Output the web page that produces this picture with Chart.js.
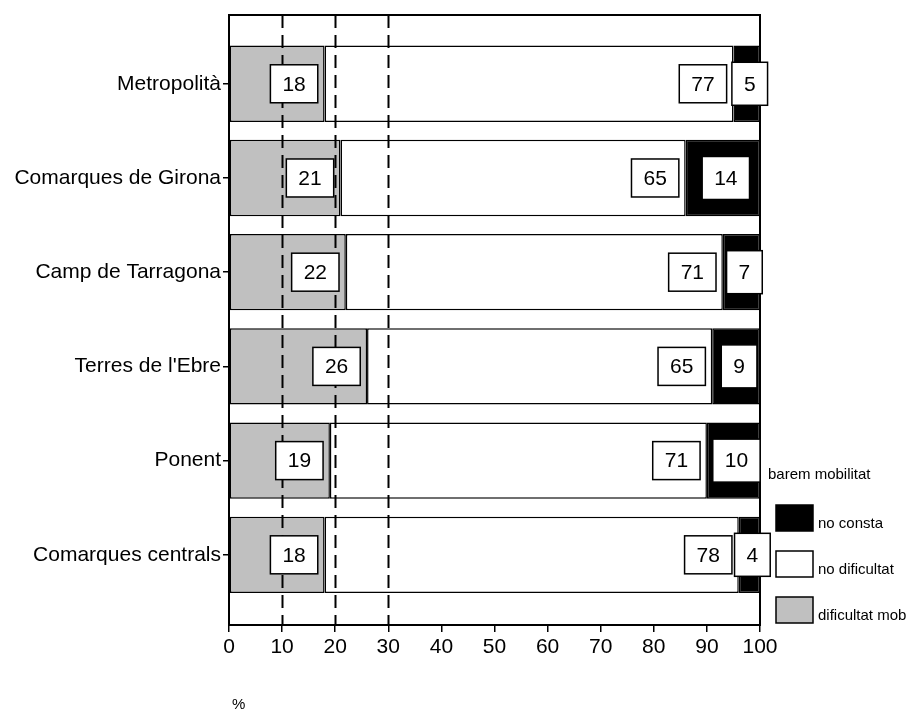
<!DOCTYPE html>
<html>
<head>
<meta charset="utf-8">
<title>barem mobilitat</title>
<script src="https://cdn.jsdelivr.net/npm/chart.js@4.4.1/dist/chart.umd.min.js"></script>
<style>
    html, body { margin: 0; padding: 0; background: #fff; }
    #wrap { width: 912px; height: 711px; }
</style>
</head>
<body>
<div id="wrap"><canvas id="chart" width="912" height="711"></canvas></div>
<script>
'use strict';

const categories = ['Metropolità', 'Comarques de Girona', 'Camp de Tarragona', "Terres de l'Ebre", 'Ponent', 'Comarques centrals'];
const dificultatMob = [18, 21, 22, 26, 19, 18];
const noDificultat = [77, 65, 71, 65, 71, 78];
const noConsta = [5, 14, 7, 9, 10, 4];
const seriesNames = ['dificultat mob', 'no dificultat', 'no consta'];
const seriesColors = ['#c0c0c0', '#ffffff', '#000000'];
const dashedAt = [10, 20, 30];
const legendTitle = 'barem mobilitat';
const axisTitle = '%';

const FONT = '"Liberation Sans", Arial, sans-serif';

const toPoints = arr => arr.map((v, i) => ({ x: v, y: i }));

// Dashed reference lines, plot frame, boxed value labels and the legend.
const overlays = {
    id: 'overlays',
    afterDatasetsDraw(chart) {
        const { ctx, chartArea: a } = chart;
        const xs = chart.scales.x;

        ctx.save();
        ctx.strokeStyle = '#000';
        ctx.lineWidth = 2;
        ctx.setLineDash([13, 7]);
        dashedAt.forEach(v => {
            const px = Math.round(xs.getPixelForValue(v)) + 0.5;
            ctx.beginPath();
            ctx.moveTo(px, a.top);
            ctx.lineTo(px, a.bottom);
            ctx.stroke();
        });
        ctx.setLineDash([]);
        ctx.strokeRect(a.left, a.top, a.right - a.left, a.bottom - a.top);

        // value labels
        ctx.font = '21px ' + FONT;
        ctx.textAlign = 'center';
        ctx.textBaseline = 'middle';
        ctx.lineWidth = 1.5;
        chart.data.datasets.forEach((ds, di) => {
            const meta = chart.getDatasetMeta(di);
            meta.data.forEach((el, i) => {
                const txt = String(ds.data[i].x);
                const w = ctx.measureText(txt).width + 24;
                const h = di === 2 ? 43 : 38;
                const cx = di === 2 ? (el.x + el.base) / 2 + 3 : el.x - 30.5;
                const cy = el.y;
                ctx.fillStyle = '#fff';
                ctx.fillRect(cx - w / 2, cy - h / 2, w, h);
                ctx.strokeStyle = '#000';
                ctx.strokeRect(cx - w / 2, cy - h / 2, w, h);
                ctx.fillStyle = '#000';
                ctx.fillText(txt, cx, cy + 1);
            });
        });

        // legend, in reverse series order like the original
        const lx = a.right + 16;
        const boxW = 37, boxH = 26, step = 46;
        ctx.font = '15px ' + FONT;
        ctx.textAlign = 'left';
        ctx.fillStyle = '#000';
        const n = chart.data.datasets.length;
        const firstTop = a.bottom - 2 - boxH - step * (n - 1);
        ctx.fillText(legendTitle, a.right + 8, firstTop - 30);
        chart.data.datasets.slice().reverse().forEach((ds, k) => {
            const top = firstTop + k * step;
            ctx.fillStyle = ds.backgroundColor;
            ctx.fillRect(lx, top, boxW, boxH);
            ctx.strokeStyle = '#000';
            ctx.strokeRect(lx, top, boxW, boxH);
            ctx.fillStyle = '#000';
            ctx.fillText(ds.label, lx + boxW + 5, top + boxH - 7);
        });

        // "%" below the axis, toward the left
        ctx.fillText(axisTitle, a.left + 3, a.bottom + 80);
        ctx.restore();
    }
};

const datasets = [dificultatMob, noDificultat, noConsta].map((arr, i) => ({
    label: seriesNames[i],
    data: toPoints(arr),
    backgroundColor: seriesColors[i],
    borderColor: '#000',
    borderWidth: 1.5,
    borderSkipped: false,
    barPercentage: 0.81,
    categoryPercentage: 1
}));

new Chart(document.getElementById('chart'), {
    type: 'bar',
    data: { datasets: datasets },
    options: {
        responsive: false,
        animation: false,
        indexAxis: 'y',
        layout: { padding: { top: 15, right: 152, left: 0, bottom: 0 } },
        plugins: {
            legend: { display: false },
            tooltip: { enabled: false }
        },
        scales: {
            x: {
                type: 'linear',
                stacked: true,
                min: 0,
                max: 100,
                afterFit: s => { s.height = 86; },
                border: { display: false },
                grid: { drawOnChartArea: false, color: '#000', lineWidth: 1.5, tickLength: 7 },
                ticks: { stepSize: 10, color: '#000', padding: 3, font: { family: FONT, size: 21 } }
            },
            y: {
                type: 'linear',
                stacked: true,
                reverse: true,
                offset: false,
                min: -0.73,
                max: 5.745,
                afterFit: s => { s.width = 229; },
                afterBuildTicks: s => { s.ticks = categories.map((_, i) => ({ value: i })); },
                border: { display: false },
                grid: { drawOnChartArea: false, offset: false, color: '#000', lineWidth: 1.5, tickLength: 6 },
                ticks: {
                    autoSkip: false,
                    color: '#000',
                    padding: 2,
                    font: { family: FONT, size: 21 },
                    callback: v => categories[v]
                }
            }
        }
    },
    plugins: [overlays]
});
</script>
</body>
</html>
